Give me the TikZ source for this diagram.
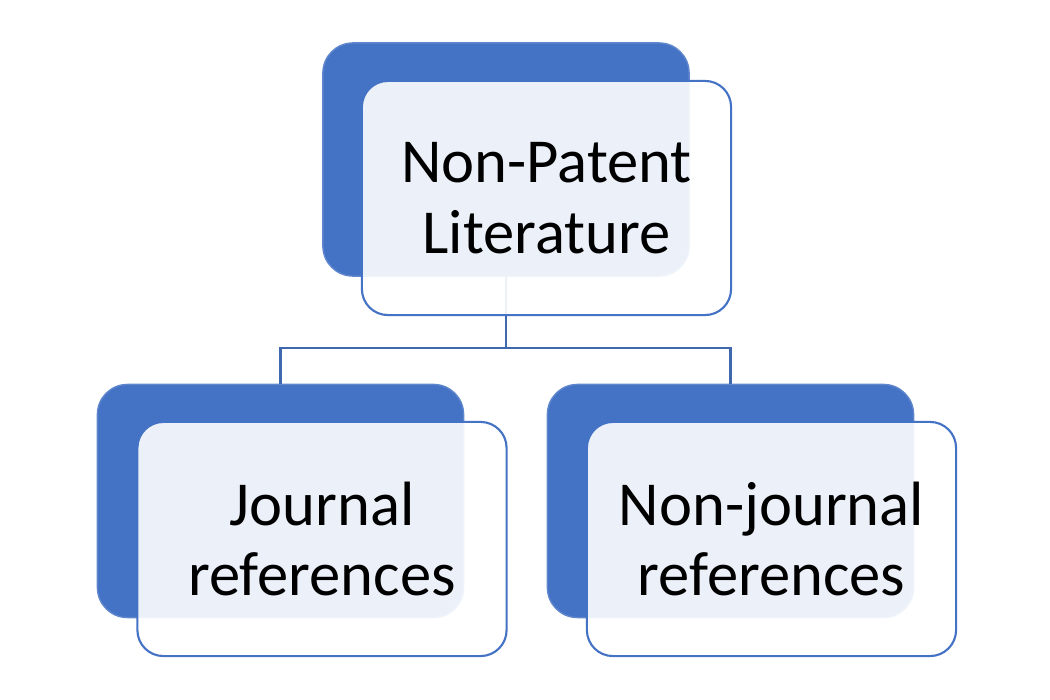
\documentclass[tikz,border=0pt]{standalone}
\usepackage{fontspec}
\setmainfont{Carlito}
\definecolor{accent}{HTML}{4472C4}
\definecolor{connc}{HTML}{4068AE}
\begin{document}
\begin{tikzpicture}[x=0.01cm,y=-0.01cm,
  backbox/.style={rectangle, rounded corners=3mm, fill=accent, draw=accent!85!white, line width=0.4pt,
    minimum width=36.6mm, minimum height=23.3mm, inner sep=0pt, outer sep=0pt},
  frontbox/.style={rectangle, rounded corners=2.6mm, fill=white, fill opacity=0.9, text opacity=1,
    draw=accent, line width=0.6pt, minimum width=36.9mm, minimum height=23.4mm,
    inner sep=0pt, outer sep=0pt, align=center, font=\fontsize{17.8}{20}\selectfont, text=black},
  conn/.style={draw=connc, line width=0.75pt}]
\useasboundingbox (0,0) rectangle (1050,700);
% back boxes
\node[backbox] (tb) at (506,159.5) {};
\node[backbox] (jb) at (280.5,501) {};
\node[backbox] (nb) at (730.5,501) {};
% connectors
\coordinate (bus) at (506,348);
\draw[conn] (tb.south) -- (bus);
\draw[conn] (jb.north) |- (bus) -| (nb.north);
% front boxes
\node[frontbox] (tf) at (546.5,198) {Non-Patent\\Literature};
\node[frontbox] (jf) at (322,539) {Journal\\references};
\node[frontbox] (nf) at (771.5,539) {Non-journal\\references};
\end{tikzpicture}
\end{document}
